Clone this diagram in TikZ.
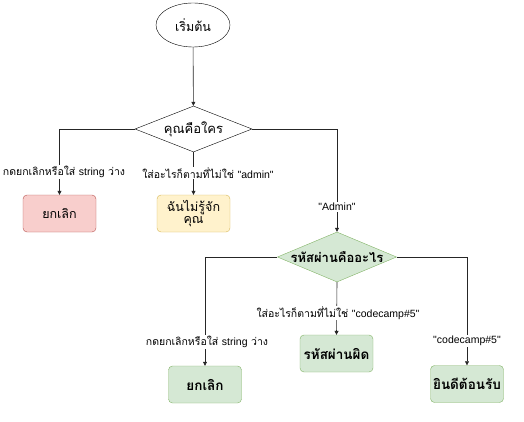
\documentclass[tikz,border=0pt]{standalone}
\usepackage{fontspec}
\setmainfont[Script=Thai]{Loma}
\newfontfamily\latinfont{Liberation Sans}
\newcommand{\lat}[1]{{\latinfont #1}}
\usetikzlibrary{shapes.geometric,arrows.meta}
\definecolor{redfill}{HTML}{F8CECC}
\definecolor{redline}{HTML}{B85450}
\definecolor{yelfill}{HTML}{FFF2CC}
\definecolor{yelline}{HTML}{D6B656}
\definecolor{grnfill}{HTML}{D5E8D4}
\definecolor{grnline}{HTML}{82B366}
\tikzset{
  box/.style={rectangle, rounded corners=4pt, minimum width=73pt, minimum height=37pt,
    align=center, inner sep=1pt, font=\fontsize{12.5}{13}\selectfont},
  redbox/.style={box, draw=redline, fill=redfill},
  yelbox/.style={box, draw=yelline, fill=yelfill},
  grnbox/.style={box, draw=grnline, fill=grnfill, font=\fontsize{13.5}{14}\selectfont\bfseries},
  decision/.style={diamond, aspect=2.4, inner sep=0pt, font=\fontsize{13}{14}\selectfont},
  arr/.style={draw=black!85, line width=0.6pt, -{Triangle[length=4pt,width=4pt]}},
  lbl/.style={fill=white, inner sep=1pt, font=\fontsize{10.5}{11}\selectfont},
}
\begin{document}
\begin{tikzpicture}[x=1pt, y=-1pt]
  \useasboundingbox (0,0) rectangle (524,422);
  % start
  \node[draw, ellipse, minimum width=74pt, minimum height=44pt, font=\fontsize{12.5}{13}\selectfont] (start) at (193,25) {เริ่มต้น};
  % first question
  \node[decision, draw=black, minimum width=117pt, minimum height=46pt] (who) at (193.5,129) {คุณคือใคร};
  \node[redbox] (cancelA) at (59.5,213.5) {ยกเลิก};
  \node[yelbox] (unknown) at (193.5,213.5) {ฉันไม่รู้จัก\\[-1pt]คุณ};
  % second question
  \node[decision, draw=grnline, fill=grnfill, minimum width=118pt, minimum height=50pt,
        font=\fontsize{13}{14}\selectfont\bfseries] (pass) at (337,257) {รหัสผ่านคืออะไร};
  \node[grnbox] (cancelB) at (205,384.5) {ยกเลิก};
  \node[grnbox] (wrong) at (336.5,353.5) {รหัสผ่านผิด};
  \node[grnbox] (welcome) at (467,384) {ยินดีต้อนรับ};

  % connectors
  \draw[arr] (start) -- (who);
  \draw[arr] (who.west) -| (cancelA.north);
  \draw[arr] (who.south) -- (unknown.north);
  \draw[arr] (who.east) -| (pass.north);
  \draw[arr] (pass.west) -| (cancelB.north);
  \draw[arr] (pass.south) -- (wrong.north);
  \draw[arr] (pass.east) -| (welcome.north);

  % connector labels
  \node[lbl] (l1) at (64,172) {กดยกเลิกหรือใส่ \lat{string} ว่าง};
  \node[lbl] (l2) at (208,173) {ใส่อะไรก็ตามที่ไม่ใช่ \lat{"admin"}};
  \node[lbl] (l3) at (337,207) {\lat{"Admin"}};
  \node[lbl] (l4) at (207,342) {กดยกเลิกหรือใส่ \lat{string} ว่าง};
  \node[lbl] (l5) at (338,313) {ใส่อะไรก็ตามที่ไม่ใช่ \lat{"codecamp\#5"}};
  \node[lbl] (l6) at (467,341) {\lat{"codecamp\#5"}};
\end{tikzpicture}
\end{document}
